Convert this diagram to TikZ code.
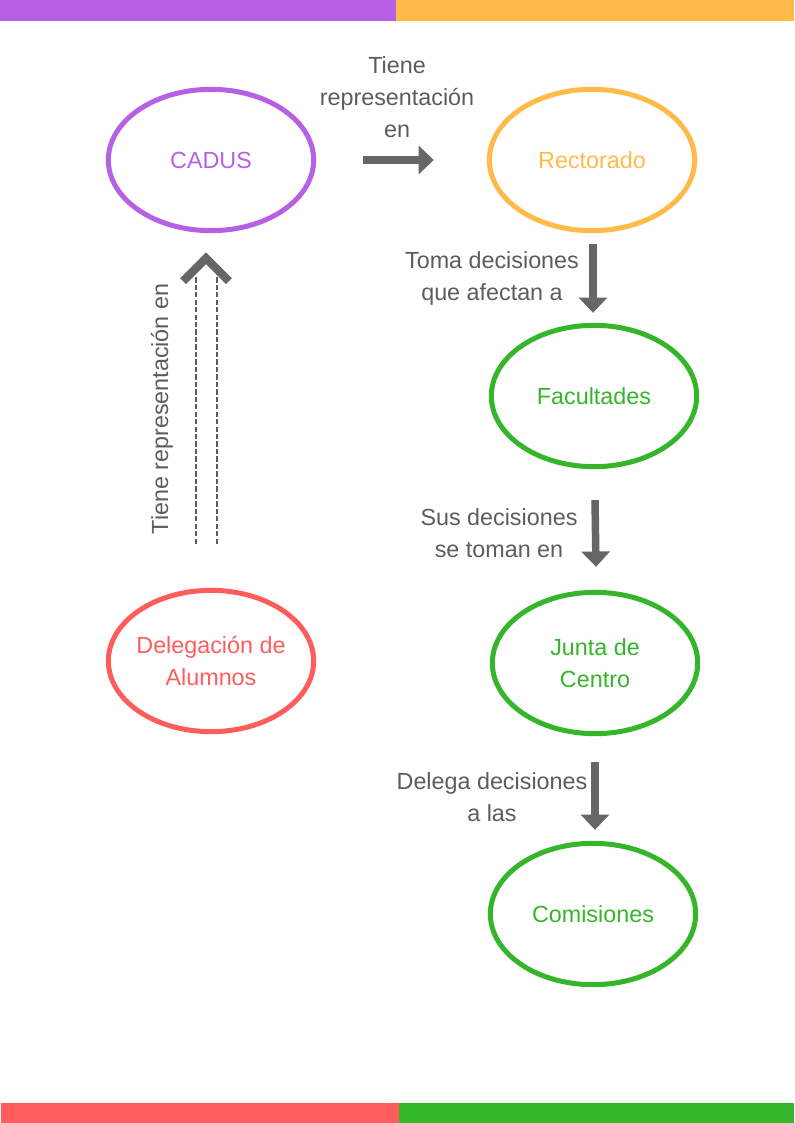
\documentclass[tikz,border=0pt]{standalone}
\usepackage{fontspec}
\setmainfont{Liberation Sans}
\usetikzlibrary{shapes.geometric,arrows.meta}

\definecolor{cadusPurple}{HTML}{B660E5}
\definecolor{rectOrange}{HTML}{FFBA4A}
\definecolor{facGreen}{HTML}{35B52A}
\definecolor{delegRed}{HTML}{FF5C5C}
\definecolor{textGrey}{HTML}{5C5C5C}
\definecolor{arrowGrey}{HTML}{666666}

\begin{document}
\begin{tikzpicture}[x=0.75pt,y=-0.75pt,
    organo/.style={ellipse,draw,line width=3.75pt,minimum width=154pt,minimum height=106pt,
        inner xsep=-4pt,inner ysep=0pt,align=center,font=\fontsize{17.5}{24}\selectfont},
    etiqueta/.style={text=textGrey,inner sep=0pt,align=center,font=\fontsize{17.5}{24}\selectfont},
    flecha/.style={draw=arrowGrey,line width=5.6pt,-{Triangle[length=11.5pt,width=21pt]}},
    chevron/.style={draw=arrowGrey,line width=6.2pt,miter limit=10},
    guia/.style={draw=arrowGrey!90!black,line width=1.1pt,dash pattern=on 4pt off 1.6pt}]
    \useasboundingbox (0,0) rectangle (794,1123);
    % bands
    \fill[cadusPurple] (0,0) rectangle (396,21);
    \fill[rectOrange] (396,0) rectangle (794,21);
    \fill[delegRed] (1,1103) rectangle (399,1123);
    \fill[facGreen] (399,1103) rectangle (794,1123);
    % bodies
    \node[organo,draw=cadusPurple,text=cadusPurple] (cadus) at (211,160) {CADUS};
    \node[organo,draw=rectOrange,text=rectOrange] (rectorado) at (592,160) {Rectorado};
    \node[organo,draw=facGreen,text=facGreen] (facultades) at (594,396) {Facultades};
    \node[organo,draw=facGreen,text=facGreen] (junta) at (595,663) {Junta de\\Centro};
    \node[organo,draw=facGreen,text=facGreen] (comisiones) at (593,914) {Comisiones};
    \node[organo,draw=delegRed,text=delegRed] (delegacion) at (211,661) {Delegación de\\Alumnos};
    % labels
    \node[etiqueta] (lblRep) at (397,97) {Tiene\\representación\\en};
    \node[etiqueta] (lblToma) at (492,278) {Toma decisiones\\que afectan a};
    \node[etiqueta] (lblSus) at (499,533) {Sus decisiones\\se toman en};
    \node[etiqueta] (lblDelega) at (492,797) {Delega decisiones\\a las};
    \node[etiqueta,rotate=90] (lblTiene) at (162,409) {Tiene representación en};
    % arrows
    \draw[flecha] ([shift={(47,0)}]cadus.east) -- ([shift={(-53,0)}]rectorado.west);
    \draw[flecha] ([shift={(1,11)}]rectorado.south) -- ([shift={(-1,-10)}]facultades.north);
    \draw[flecha] ([shift={(1,31)}]facultades.south) -- ([shift={(1,-23)}]junta.north);
    \draw[flecha] ([shift={(0,26)}]junta.south) -- ([shift={(2,-11)}]comisiones.north);
    % dashed link up to CADUS
    \draw[guia] ([shift={(-15,-44)}]delegacion.north) -- ([shift={(-15,43)}]cadus.south);
    \draw[guia] ([shift={(6,-44)}]delegacion.north) -- ([shift={(6,43)}]cadus.south);
    \draw[chevron] ([shift={(-28,48)}]cadus.south) -- ([shift={(-5,25)}]cadus.south)
        -- ([shift={(18,48)}]cadus.south);
\end{tikzpicture}
\end{document}
